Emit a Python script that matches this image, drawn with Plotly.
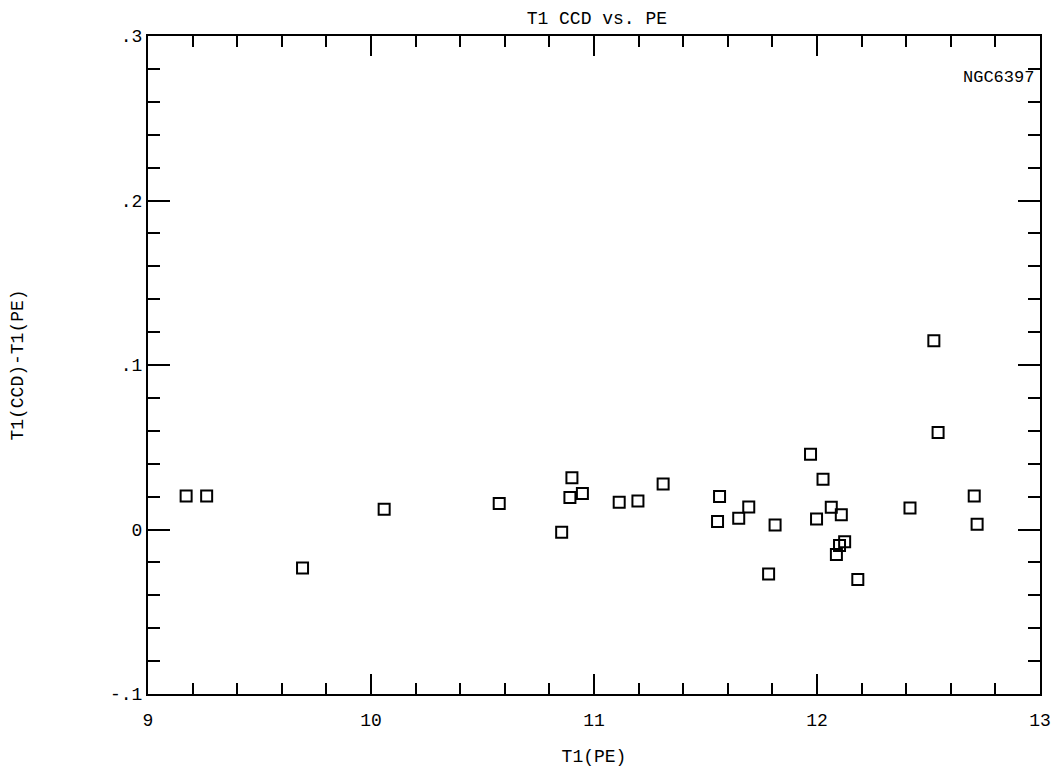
import plotly.graph_objects as go

t1_pe = [9.171, 9.263, 9.693, 10.059, 10.575, 10.855, 10.892, 10.901, 10.948,
         11.113, 11.197, 11.310, 11.563, 11.554, 11.649, 12.524, 12.543, 11.971,
         12.027, 11.694, 11.812, 11.998, 12.064, 12.109, 12.124, 12.101, 12.087,
         11.783, 12.183, 12.417, 12.705, 12.718]
diff = [0.0203, 0.0203, -0.0234, 0.0123, 0.0158, -0.0016, 0.0195, 0.0314, 0.0219,
        0.0166, 0.0174, 0.0276, 0.0201, 0.0049, 0.0069, 0.1147, 0.0590, 0.0458,
        0.0306, 0.0137, 0.0028, 0.0064, 0.0136, 0.0089, -0.0075, -0.0097, -0.0152,
        -0.0270, -0.0304, 0.0131, 0.0203, 0.0032]

x_ticks = [9, 10, 11, 12, 13]
x_ticktext = ["9", "10", "11", "12", "13"]
y_ticks = [-0.1, 0, 0.1, 0.2, 0.3]
y_ticktext = ["-.1", "0", ".1", ".2", ".3"]

FONT = "Liberation Mono"
TXT = dict(family=FONT, size=18, color="black")

fig = go.Figure()
fig.add_trace(go.Scatter(
    x=t1_pe, y=diff, mode="markers",
    marker=dict(symbol="square-open", size=11, color="black", line=dict(width=2, color="black")),
    showlegend=False, hoverinfo="x+y"))
# invisible trace so the mirrored top/right axes are drawn
fig.add_trace(go.Scatter(x=[9, 13], y=[-0.1, 0.3], xaxis="x2", yaxis="y2", mode="markers",
                         marker=dict(opacity=0), showlegend=False, hoverinfo="skip"))

base = dict(showgrid=False, zeroline=False, showline=True, linecolor="black",
            linewidth=2, ticks="inside", tickcolor="black", tickwidth=2)

fig.update_layout(
    width=1063, height=778,
    margin=dict(l=148, r=16, t=36, b=84),
    paper_bgcolor="white", plot_bgcolor="white",
    title=dict(text="T1 CCD vs. PE", x=0.5615, xanchor="center", y=0.985, yanchor="top",
               font=dict(family=FONT, size=18, color="black")),
    xaxis=dict(range=[9, 13], tickvals=x_ticks, ticktext=x_ticktext, ticklen=20,
               ticklabelstandoff=8,
               minor=dict(dtick=0.2, ticks="inside", ticklen=11, tickwidth=2, tickcolor="black"),
               tickfont=TXT, title=dict(text="T1(PE)", font=TXT, standoff=20), **base),
    yaxis=dict(range=[-0.1, 0.3], tickvals=y_ticks, ticktext=y_ticktext, ticklen=22,
               minor=dict(dtick=0.02, ticks="inside", ticklen=12, tickwidth=2, tickcolor="black"),
               tickfont=TXT, title=dict(text="T1(CCD)-T1(PE)", font=TXT, standoff=82), **base),
    xaxis2=dict(range=[9, 13], overlaying="x", side="top", tickvals=x_ticks, ticklen=20,
                showticklabels=False,
                minor=dict(dtick=0.2, ticks="inside", ticklen=11, tickwidth=2, tickcolor="black"),
                **base),
    yaxis2=dict(range=[-0.1, 0.3], overlaying="y", side="right", tickvals=y_ticks, ticklen=22,
                showticklabels=False,
                minor=dict(dtick=0.02, ticks="inside", ticklen=12, tickwidth=2, tickcolor="black"),
                **base),
)

fig.add_annotation(x=1, y=0.275, xref="paper", yref="y", xanchor="right", yanchor="middle",
                   xshift=-4, text="NGC6397", showarrow=False, font=dict(family=FONT, size=17, color="black"))

fig.write_html("out.html")
